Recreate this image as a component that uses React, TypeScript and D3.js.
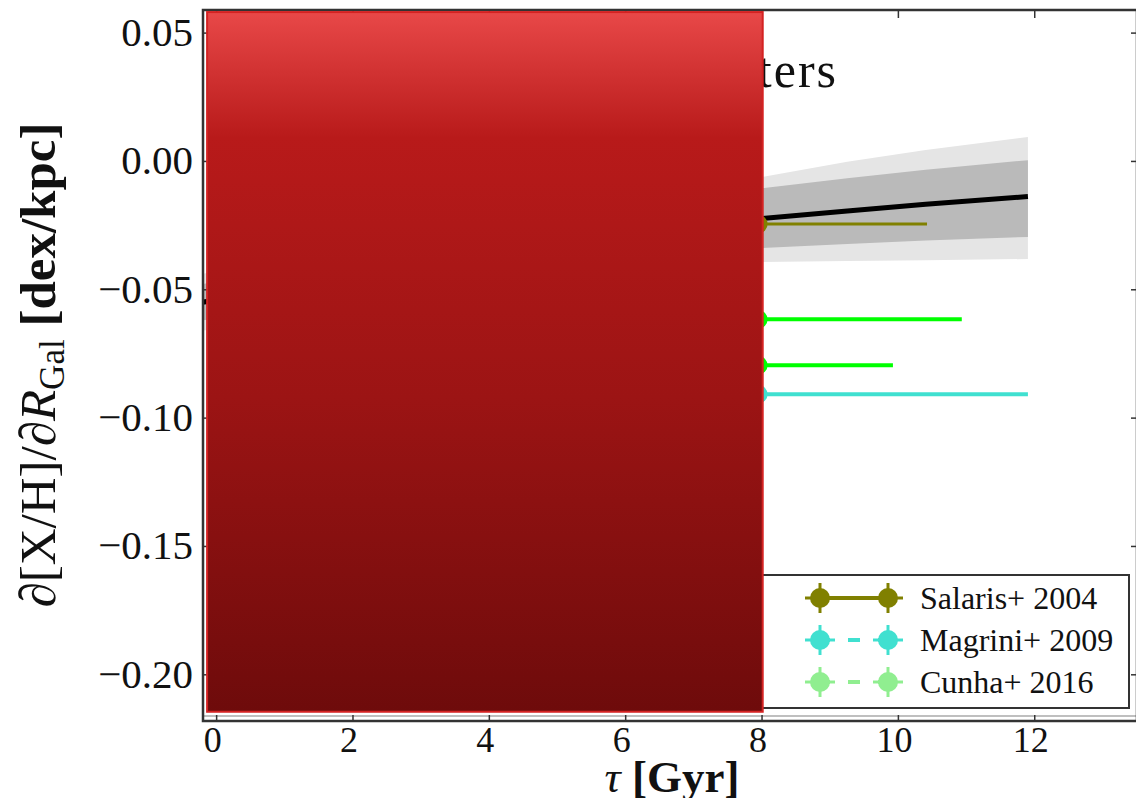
import React from "react";
import * as d3 from "d3";

const W = 1136;
const H = 798;

// Chemical-evolution model: radial [X/H] gradient as a function of age, with 1σ and 2σ envelopes
const modelAge = [-0.25, 2, 4, 6, 8, 9.25, 10.4, 11.9];
const modelGrad = [-0.055, -0.046, -0.038, -0.030, -0.0222, -0.0193, -0.0167, -0.0137];
const model1sLo = [-0.062, -0.055, -0.047, -0.040, -0.0337, -0.0322, -0.0308, -0.0294];
const model1sHi = [-0.048, -0.037, -0.028, -0.019, -0.0104, -0.0065, -0.0032, 0.0005];
const model2sLo = [-0.066, -0.059, -0.051, -0.044, -0.0392, -0.0388, -0.0385, -0.038];
const model2sHi = [-0.044, -0.033, -0.022, -0.013, -0.0061, -0.0001, 0.0045, 0.0095];

// Open-cluster gradient measurements (age span given as horizontal error bars)
const obsStudy = ["Salaris+ 2004", "Cunha+ 2016", "Cunha+ 2016", "Magrini+ 2009"];
const obsAge = [7.95, 7.95, 7.95, 7.95];
const obsAgeMin = [5.5, 5.0, 6.0, 4.0];
const obsAgeMax = [10.42, 10.93, 9.92, 11.9];
const obsGrad = [-0.0244, -0.0615, -0.0794, -0.0907];

const legendStudies = ["Salaris+ 2004", "Magrini+ 2009", "Cunha+ 2016"];

const xTicks = [0, 2, 4, 6, 8, 10, 12];
const yTicks = [0.05, 0.0, -0.05, -0.1, -0.15, -0.2];

// Covering panel over the young-age part of the diagram
const coverAge = [-0.14, 8.01];
const coverGrad = [-0.2144, 0.0582];

const studyStyle: Record<string, { color: string; bar: string; dash: string | null }> = {
  "Salaris+ 2004": { color: "#808000", bar: "#808000", dash: null },
  "Magrini+ 2009": { color: "#40e0d0", bar: "#40e0d0", dash: "12 18" },
  "Cunha+ 2016": { color: "#90ee90", bar: "#00ff00", dash: "12 18" },
};

const serif = "'Liberation Serif', 'DejaVu Serif', serif";

export default function App() {
  const left = 203;
  const right = 1137;
  const top = 10;
  const bottom = 721;

  const x = d3.scaleLinear().domain([-0.2, 13.5]).range([left, right]);
  const y = d3.scaleLinear().domain([-0.218, 0.059]).range([bottom, top]);

  const idx = modelAge.map((_, i) => i);
  const band2 = d3
    .area<number>()
    .x((i) => x(modelAge[i]))
    .y0((i) => y(model2sLo[i]))
    .y1((i) => y(model2sHi[i]))(idx) as string;
  const band1 = d3
    .area<number>()
    .x((i) => x(modelAge[i]))
    .y0((i) => y(model1sLo[i]))
    .y1((i) => y(model1sHi[i]))(idx) as string;
  const line = d3
    .line<number>()
    .x((i) => x(modelAge[i]))
    .y((i) => y(modelGrad[i]))(idx) as string;

  const legX1 = 820;
  const legX2 = 888;
  const legRows = [598, 640, 682];

  const marker = (cx: number, cy: number, color: string, key: string) => (
    <g key={key}>
      <line x1={cx - 15} x2={cx + 15} y1={cy} y2={cy} stroke={color} strokeWidth={3} />
      <line x1={cx} x2={cx} y1={cy - 15} y2={cy + 15} stroke={color} strokeWidth={3} />
      <circle cx={cx} cy={cy} r={10} fill={color} />
    </g>
  );

  return (
    <svg
      width={W}
      height={H}
      style={{ position: "absolute", left: 0, top: 0, background: "#fff" }}
      fontFamily={serif}
    >
      <defs>
        <clipPath id="plotArea">
          <rect x={left} y={top} width={right - left} height={bottom - top} />
        </clipPath>
        <linearGradient id="coverFill" x1="0" y1="0" x2="0" y2="1">
          <stop offset="0" stopColor="#e84848" />
          <stop offset="0.18" stopColor="#b81a1a" />
          <stop offset="0.55" stopColor="#9c1414" />
          <stop offset="1" stopColor="#6e0b0b" />
        </linearGradient>
      </defs>
      <rect x={0} y={0} width={W} height={H} fill="#fff" />

      {/* title */}
      <text x={838} y={87} fontSize={50} letterSpacing={2} textAnchor="end" fill="#111">
        Open Clusters
      </text>

      {/* model envelopes and median */}
      <g clipPath="url(#plotArea)">
        <path d={band2} fill="#e5e5e5" />
        <path d={band1} fill="#bababa" />
        <path d={line} fill="none" stroke="#000" strokeWidth={5} strokeLinejoin="round" />
      </g>

      {/* observational error bars */}
      <g clipPath="url(#plotArea)">
        {obsGrad.map((g, i) => {
          const st = studyStyle[obsStudy[i]];
          return (
            <g key={`obs${i}`}>
              <line
                x1={x(obsAgeMin[i])}
                x2={x(obsAgeMax[i])}
                y1={y(g)}
                y2={y(g)}
                stroke={st.bar}
                strokeWidth={i === 0 ? 3 : 4}
              />
              <circle cx={x(obsAge[i])} cy={y(g)} r={9} fill={st.bar} />
            </g>
          );
        })}
      </g>

      {/* legend */}
      <rect x={700} y={575} width={429} height={133} fill="#fff" stroke="#333" strokeWidth={2} />
      {legendStudies.map((s, i) => {
        const st = studyStyle[s];
        const cy = legRows[i];
        return (
          <g key={s}>
            <line
              x1={legX1 - 2}
              x2={legX2 + 2}
              y1={cy}
              y2={cy}
              stroke={st.color}
              strokeWidth={4}
              strokeDasharray={st.dash ?? undefined}
            />
            {marker(legX1, cy, st.color, `a${i}`)}
            {marker(legX2, cy, st.color, `b${i}`)}
            <text x={920} y={cy + 11} fontSize={32} fill="#111">
              {s}
            </text>
          </g>
        );
      })}

      {/* axes frame */}
      <line x1={left} x2={right} y1={bottom - 5} y2={bottom - 5} stroke="#aaa" strokeWidth={1.5} />
      <rect
        x={left}
        y={top}
        width={right - left}
        height={bottom - top}
        fill="none"
        stroke="#333"
        strokeWidth={2.5}
      />

      {/* x ticks */}
      {xTicks.map((t) => (
        <g key={`xt${t}`}>
          <line x1={x(t)} x2={x(t)} y1={bottom} y2={bottom - 6} stroke="#333" strokeWidth={1.5} />
          <line x1={x(t)} x2={x(t)} y1={top} y2={top + 8} stroke="#333" strokeWidth={1.5} />
          <text x={x(t) - 4} y={752} fontSize={36} textAnchor="middle" fill="#111">
            {t}
          </text>
        </g>
      ))}

      {/* y ticks */}
      {yTicks.map((t) => (
        <g key={`yt${t}`}>
          <line x1={left} x2={left + 6} y1={y(t)} y2={y(t)} stroke="#333" strokeWidth={1.5} />
          <line x1={right} x2={right - 6} y1={y(t)} y2={y(t)} stroke="#333" strokeWidth={1.5} />
          <text x={193} y={y(t) + 13} fontSize={41} textAnchor="end" fill="#111">
            {t < 0 ? "\u2212" : ""}
            {Math.abs(t).toFixed(2)}
          </text>
        </g>
      ))}

      {/* axis labels */}
      <text x={672} y={792} fontSize={45} textAnchor="middle" fill="#111">
        <tspan fontStyle="italic">τ</tspan>
        <tspan fontWeight="bold"> [Gyr]</tspan>
      </text>
      <text transform="translate(55,365) rotate(-90)" fontSize={51} textAnchor="middle" fill="#111">
        <tspan fontStyle="italic">∂</tspan>
        <tspan>[X/H]/</tspan>
        <tspan fontStyle="italic">∂R</tspan>
        <tspan fontSize={35} dy={9}>
          Gal
        </tspan>
        <tspan dy={-9} fontWeight="bold">
          {" "}[dex/kpc]
        </tspan>
      </text>

      {/* covering panel */}
      <rect
        x={x(coverAge[0])}
        y={y(coverGrad[1])}
        width={x(coverAge[1]) - x(coverAge[0])}
        height={y(coverGrad[0]) - y(coverGrad[1])}
        fill="url(#coverFill)"
        stroke="#d42222"
        strokeWidth={2}
      />
    </svg>
  );
}
